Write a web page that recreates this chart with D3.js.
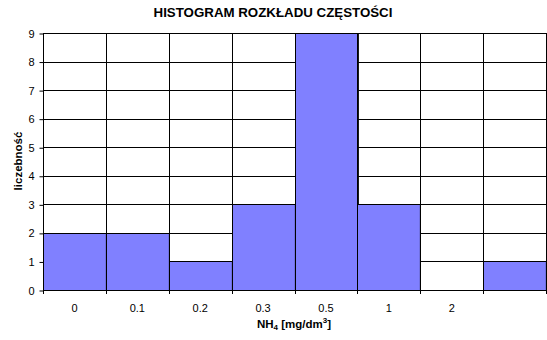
<!DOCTYPE html>
<html>
<head>
<meta charset="utf-8">
<script src="https://cdn.jsdelivr.net/npm/d3@7"></script>
<style>
  html, body { margin: 0; padding: 0; background: #fff; }
  svg { display: block; font-family: "Liberation Sans", Arial, sans-serif; }
</style>
</head>
<body>
<svg id="chart" width="547" height="340"></svg>
<script>
// Frequency histogram of NH4 concentration classes
const categories = ["0", "0.1", "0.2", "0.3", "0.5", "1", "2", ""];
const counts = [2, 2, 1, 3, 9, 3, 0, 1];
const yTicks = [0, 1, 2, 3, 4, 5, 6, 7, 8, 9];

const svg = d3.select("#chart");
const m = { left: 43, right: 1, top: 33, bottom: 50 };
const W = 547, H = 340;

const x = d3.scaleBand().domain(d3.range(categories.length))
  .range([m.left, W - m.right]).padding(0);
const y = d3.scaleLinear().domain([0, 9]).range([H - m.bottom, m.top]);

// horizontal grid
svg.append("g").selectAll("line").data(yTicks).join("line")
  .attr("x1", m.left).attr("x2", W - m.right)
  .attr("y1", d => Math.round(y(d)) + 0.5).attr("y2", d => Math.round(y(d)) + 0.5)
  .attr("stroke", "#000").attr("stroke-width", 1);

// bars
svg.append("g").selectAll("rect").data(counts).join("rect")
  .attr("x", (d, i) => Math.round(x(i)) + 0.5)
  .attr("y", d => Math.round(y(d)) + 0.5)
  .attr("width", x.bandwidth())
  .attr("height", d => Math.round(y(0)) - Math.round(y(d)))
  .attr("fill", "#8080ff")
  .attr("stroke", "#000").attr("stroke-width", 1)
  .style("display", d => d > 0 ? null : "none");

// vertical grid at class boundaries
const bounds = d3.range(categories.length + 1).map(i => i < categories.length ? x(i) : x(i - 1) + x.bandwidth());
svg.append("g").selectAll("line").data(bounds).join("line")
  .attr("x1", d => Math.round(d) + 0.5).attr("x2", d => Math.round(d) + 0.5)
  .attr("y1", m.top).attr("y2", H - m.bottom + 4)
  .attr("stroke", "#000").attr("stroke-width", 1);

// y axis
const yAxis = svg.append("g")
  .attr("transform", `translate(${m.left + 0.5},0.5)`)
  .call(d3.axisLeft(y).tickValues(yTicks).tickSize(4).tickPadding(5).tickFormat(d3.format("d")));
yAxis.select(".domain").attr("stroke", "#000").attr("d", `M0,${y(9)}V${y(0)}`);
yAxis.selectAll("text").attr("font-size", 11).attr("fill", "#000")
  .attr("font-family", "'Liberation Sans', Arial, sans-serif");
yAxis.selectAll(".tick line").attr("stroke", "#000");

// x axis baseline
svg.append("line")
  .attr("x1", m.left).attr("x2", W - m.right)
  .attr("y1", Math.round(y(0)) + 0.5).attr("y2", Math.round(y(0)) + 0.5)
  .attr("stroke", "#000");

// x tick labels centred on each class
svg.append("g").selectAll("text").data(categories).join("text")
  .attr("x", (d, i) => x(i) + x.bandwidth() / 2)
  .attr("y", H - m.bottom + 22)
  .attr("text-anchor", "middle")
  .attr("font-size", 11)
  .text(d => d);

// title
svg.append("text")
  .attr("x", 273).attr("y", 17)
  .attr("text-anchor", "middle")
  .attr("font-size", 13.3).attr("font-weight", "bold")
  .text("HISTOGRAM ROZKŁADU CZĘSTOŚCI");

// x axis title with sub/superscripts
const xt = svg.append("text")
  .attr("x", 294).attr("y", 328)
  .attr("text-anchor", "middle")
  .attr("font-size", 11.5).attr("font-weight", "bold");
xt.append("tspan").text("NH");
xt.append("tspan").attr("font-size", 8).attr("dy", 2).text("4");
xt.append("tspan").attr("dy", -2).text(" [mg/dm");
xt.append("tspan").attr("font-size", 8).attr("dy", -5).text("3");
xt.append("tspan").attr("dy", 5).text("]");

// y axis title
svg.append("text")
  .attr("transform", `translate(22,161) rotate(-90)`)
  .attr("text-anchor", "middle")
  .attr("font-size", 11.5).attr("font-weight", "bold")
  .text("liczebność");
</script>
</body>
</html>
